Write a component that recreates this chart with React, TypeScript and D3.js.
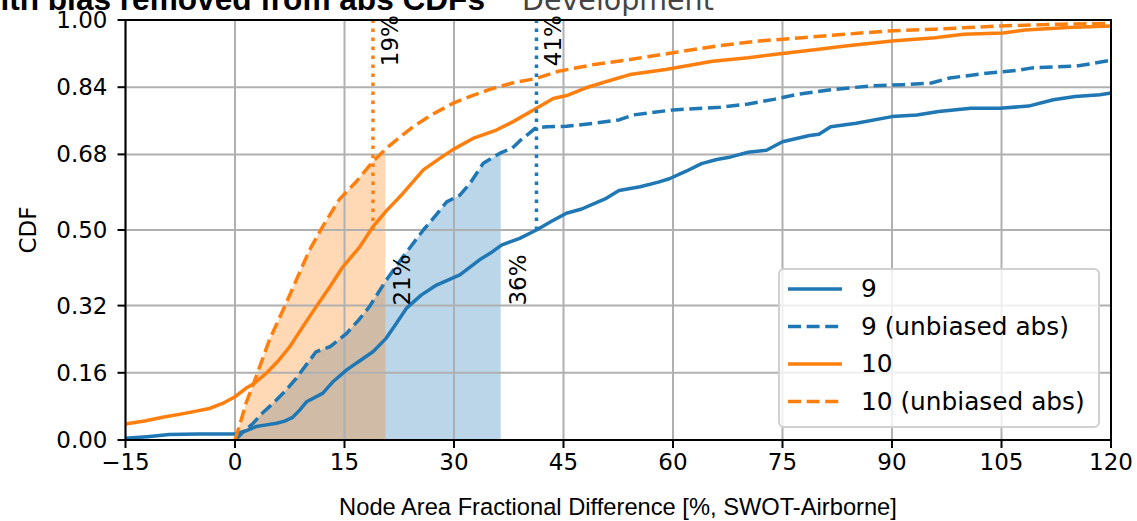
import * as d3 from "d3";
import React from "react";

const width = 1137;
const height = 521;
const margin = { top: 20, right: 26, bottom: 81, left: 125.5 };

const blue = "#1f77b4";
const orange = "#ff7f0e";

// [x %, CDF]
const cdf9: [number, number][] = [
  [-15, 0.004], [-12, 0.008], [-9, 0.013], [-5, 0.014], [0, 0.014], [1.5, 0.022], [2.9, 0.032],
  [4.3, 0.036], [5.7, 0.04], [6.8, 0.045], [7.9, 0.054], [8.8, 0.07], [9.8, 0.091], [12, 0.111],
  [13.5, 0.14], [15.3, 0.167], [17.2, 0.19], [18.9, 0.21], [20.7, 0.242], [22, 0.275], [23.5, 0.314],
  [25.5, 0.345], [27.6, 0.369], [30.8, 0.393], [33.5, 0.429], [35, 0.445], [36.5, 0.464], [39, 0.48],
  [41.3, 0.5], [43.3, 0.52], [45.4, 0.54], [47.5, 0.55], [49.5, 0.565], [50.7, 0.574], [52.6, 0.594],
  [55.5, 0.603], [58, 0.614], [59.5, 0.622], [61.8, 0.64], [63.9, 0.658], [66, 0.668], [67.9, 0.674],
  [70.3, 0.685], [72.8, 0.69], [75, 0.71], [78.7, 0.725], [80, 0.728], [81.6, 0.746], [85.1, 0.754],
  [90, 0.77], [93.4, 0.774], [96.4, 0.782], [100.8, 0.79], [104.8, 0.79], [108.7, 0.795],
  [112.1, 0.81], [115.1, 0.818], [118.5, 0.822], [120, 0.826],
];

const cdf9Unbiased: [number, number][] = [
  [0, 0], [1.2, 0.02], [2.5, 0.04], [3.8, 0.065], [5.2, 0.087], [6.8, 0.115], [8.4, 0.147],
  [9.8, 0.18], [11.1, 0.21], [13, 0.222], [15.3, 0.254], [16.9, 0.285], [18.4, 0.317], [20.7, 0.38],
  [23, 0.436], [25.8, 0.5], [27.5, 0.535], [29, 0.567], [30.8, 0.583], [32.2, 0.611], [34, 0.659],
  [36.3, 0.683], [38, 0.695], [39, 0.712], [40.3, 0.73], [41.1, 0.742], [42.7, 0.746], [45.4, 0.747],
  [49.2, 0.754], [52.6, 0.762], [54.6, 0.774], [60, 0.786], [66.4, 0.792], [70.3, 0.8], [73.8, 0.811],
  [76.7, 0.822], [81.6, 0.834], [87, 0.843], [91.5, 0.846], [95.4, 0.85], [97.9, 0.862],
  [103.3, 0.874], [107.2, 0.88], [109.2, 0.886], [115.1, 0.89], [118, 0.898], [120, 0.904],
];

const cdf10: [number, number][] = [
  [-15, 0.038], [-12.2, 0.046], [-9.9, 0.054], [-6.7, 0.064], [-3.5, 0.075], [-1.7, 0.087], [0, 0.103],
  [1.5, 0.123], [2.5, 0.133], [4.3, 0.159], [6, 0.19], [7.5, 0.222], [9.3, 0.27], [11.1, 0.317],
  [13, 0.365], [14.8, 0.413], [17.1, 0.46], [18.9, 0.508], [20.7, 0.545], [23, 0.587], [25.8, 0.643],
  [28, 0.67], [29.9, 0.692], [32.6, 0.718], [35.8, 0.738], [38.1, 0.758], [41.3, 0.79], [43.6, 0.813],
  [45.6, 0.821], [48, 0.838], [50.2, 0.85], [54.1, 0.87], [59, 0.882], [62.9, 0.894], [65.4, 0.902],
  [70.3, 0.91], [73.8, 0.918], [79.7, 0.93], [83.6, 0.938], [90, 0.95], [95.9, 0.958], [99.8, 0.966],
  [105.2, 0.969], [108.2, 0.976], [114.1, 0.982], [120, 0.986],
];

const cdf10Unbiased: [number, number][] = [
  [0, 0], [0.8, 0.045], [1.5, 0.087], [2.9, 0.151], [4.7, 0.238], [6.6, 0.31], [8.4, 0.381],
  [10.2, 0.452], [12, 0.508], [14.3, 0.573], [16.6, 0.615], [18.9, 0.663], [20.7, 0.694], [22.5, 0.72],
  [24.4, 0.746], [27, 0.775], [29.9, 0.802], [32.5, 0.82], [35.3, 0.837], [38, 0.85], [41.3, 0.861],
  [44.3, 0.878], [49.2, 0.894], [54.1, 0.906], [60, 0.922], [65.9, 0.938], [71.8, 0.95], [77.7, 0.958],
  [83.6, 0.966], [89.5, 0.974], [95.9, 0.978], [104.8, 0.986], [113.1, 0.99], [120, 0.992],
];

const xTicks = [-15, 0, 15, 30, 45, 60, 75, 90, 105, 120];
const yTicks = [0, 0.16, 0.32, 0.5, 0.68, 0.84, 1.0];

// medians of the plain CDFs (dotted lines) and 68% ends of the unbiased ones (shaded)
const medians = [
  { x: 18.9, label: "19%", color: orange },
  { x: 41.3, label: "41%", color: blue },
];
const fillEnds = [
  { x: 36.4, label: "36%", color: blue, data: cdf9Unbiased },
  { x: 20.6, label: "21%", color: orange, data: cdf10Unbiased },
];

const series = [
  { label: "9", data: cdf9, color: blue, dashed: false },
  { label: "9 (unbiased abs)", data: cdf9Unbiased, color: blue, dashed: true },
  { label: "10", data: cdf10, color: orange, dashed: false },
  { label: "10 (unbiased abs)", data: cdf10Unbiased, color: orange, dashed: true },
];

const font = "DejaVu Sans, sans-serif";

export default function App() {
  const x = d3.scaleLinear().domain([-15, 120]).range([margin.left, width - margin.right]);
  const y = d3.scaleLinear().domain([0, 1]).range([height - margin.bottom, margin.top]);

  const line = d3
    .line<[number, number]>()
    .x((d) => x(d[0]))
    .y((d) => y(d[1]));

  const area = d3
    .area<[number, number]>()
    .x((d) => x(d[0]))
    .y0(y(0))
    .y1((d) => y(d[1]));

  const clipTo = (data: [number, number][], end: number): [number, number][] => {
    const pts = data.filter((d) => d[0] <= end);
    const i = data.findIndex((d) => d[0] > end);
    if (i > 0) {
      const a = data[i - 1];
      const b = data[i];
      const t = (end - a[0]) / (b[0] - a[0]);
      pts.push([end, a[1] + t * (b[1] - a[1])]);
    }
    return pts;
  };

  const x0 = x(-15);
  const x1 = x(120);
  const yb = y(0);
  const yt = y(1);

  // legend box
  const lg = { x: 779, y: 269, w: 320, h: 158 };

  return (
    <svg width={width} height={height} style={{ display: "block", position: "absolute", left: 0, top: 0 }}>
      <rect width={width} height={height} fill="#fff" />

      <text x={485} y={10} textAnchor="end" fontFamily="Liberation Sans, Arial, sans-serif" fontWeight="bold" fontSize={31.6} fill="#000">
        with bias removed from abs CDFs
      </text>
      <text x={522} y={10} fontFamily={font} fontSize={28.5} fill="#444">
        Development
      </text>

      {/* shaded regions */}
      {fillEnds.map((f) => (
        <path key={f.label} d={area(clipTo(f.data, f.x)) || ""} fill={f.color} fillOpacity={0.3} />
      ))}

      {/* grid */}
      {xTicks.map((t) => (
        <line key={"gx" + t} x1={x(t)} x2={x(t)} y1={yt} y2={yb} stroke="#b0b0b0" strokeWidth={2} />
      ))}
      {yTicks.map((t) => (
        <line key={"gy" + t} x1={x0} x2={x1} y1={y(t)} y2={y(t)} stroke="#b0b0b0" strokeWidth={2} />
      ))}

      {/* curves */}
      {series.map((s) => (
        <path
          key={s.label}
          d={line(s.data) || ""}
          fill="none"
          stroke={s.color}
          strokeWidth={3.5}
          strokeDasharray={s.dashed ? "13,5.6" : undefined}
          strokeLinejoin="round"
        />
      ))}

      {/* median markers */}
      {medians.map((m) => (
        <g key={m.label}>
          <line x1={x(m.x)} x2={x(m.x)} y1={y(0.5)} y2={yt} stroke={m.color} strokeWidth={3.5} strokeDasharray="3.5,5.5" />
          <text transform={`translate(${x(m.x) + 25},${y(0.89)}) rotate(-90)`} fontFamily={font} fontSize={23} fill="#000">
            {m.label}
          </text>
        </g>
      ))}
      {fillEnds.map((f) => (
        <text key={"t" + f.label} transform={`translate(${x(f.x) + 25},${y(0.32)}) rotate(-90)`} fontFamily={font} fontSize={23} fill="#000">
          {f.label}
        </text>
      ))}

      {/* spines */}
      <rect x={x0} y={yt} width={x1 - x0} height={yb - yt} fill="none" stroke="#000" strokeWidth={2} />

      {/* ticks */}
      {xTicks.map((t) => (
        <g key={"xt" + t}>
          <line x1={x(t)} x2={x(t)} y1={yb} y2={yb + 8} stroke="#000" strokeWidth={2} />
          <text x={x(t)} y={yb + 30} textAnchor="middle" fontFamily={font} fontSize={23} fill="#000">
            {t < 0 ? "\u2212" + Math.abs(t) : t}
          </text>
        </g>
      ))}
      {yTicks.map((t) => (
        <g key={"yt" + t}>
          <line x1={x0 - 8} x2={x0} y1={y(t)} y2={y(t)} stroke="#000" strokeWidth={2} />
          <text x={x0 - 18} y={y(t) + 8} textAnchor="end" fontFamily={font} fontSize={23} fill="#000">
            {t.toFixed(2)}
          </text>
        </g>
      ))}

      <text transform={`translate(${36},${(yt + yb) / 2}) rotate(-90)`} textAnchor="middle" fontFamily={font} fontSize={23} fill="#000">
        CDF
      </text>
      <text x={618} y={515} textAnchor="middle" fontFamily="Liberation Sans, Arial, sans-serif" fontSize={23.7} fill="#000">
        Node Area Fractional Difference [%, SWOT-Airborne]
      </text>

      {/* legend */}
      <rect x={lg.x} y={lg.y} width={lg.w} height={lg.h} rx={5} fill="#fff" fillOpacity={0.8} stroke="#d0d0d0" strokeWidth={2} />
      {series.map((s, i) => {
        const cy = 289 + i * 37.5;
        return (
          <g key={"lg" + s.label}>
            <line x1={788} x2={842} y1={cy} y2={cy} stroke={s.color} strokeWidth={3.5} strokeDasharray={s.dashed ? "13,5.6" : undefined} />
            <text x={861} y={cy + 8} fontFamily={font} fontSize={24.8} fill="#000">
              {s.label}
            </text>
          </g>
        );
      })}
    </svg>
  );
}
